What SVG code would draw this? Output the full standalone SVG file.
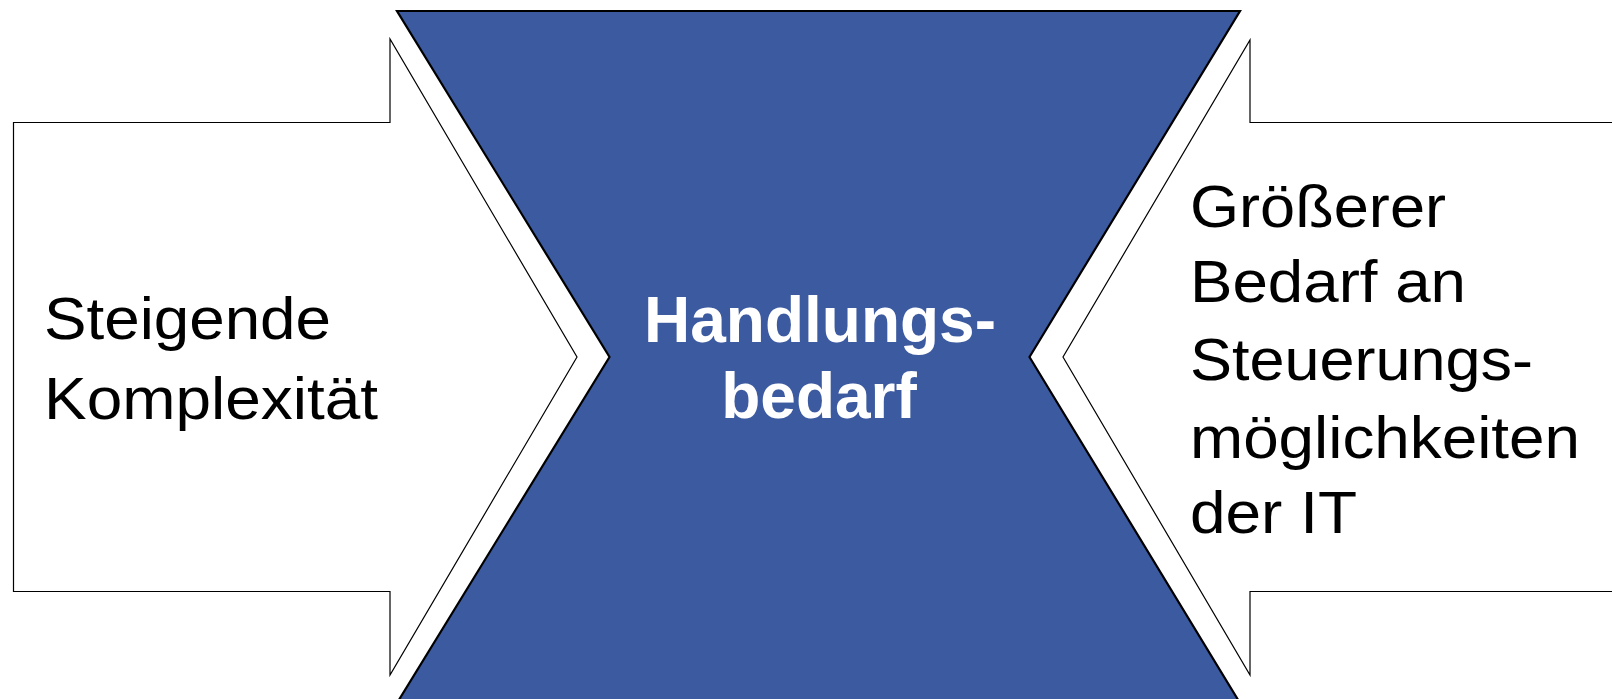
<svg xmlns="http://www.w3.org/2000/svg" width="1612" height="699" viewBox="0 0 1612 699">
<style>
.arrow{fill:#ffffff;stroke:#000000;stroke-width:1.2}
.center{fill:#3C5AA0;stroke:#000000;stroke-width:2.2}
.lbl{font-family:"Liberation Sans",Arial,sans-serif;font-size:60px;fill:#000000}
.clbl{font-family:"Liberation Sans",Arial,sans-serif;font-size:64px;font-weight:bold;fill:#ffffff;text-anchor:middle}
</style>
<rect x="0" y="0" width="1612" height="699" fill="#ffffff"/>
<g id="left-arrow">
<polygon class="arrow" points="13.5,122.5 390,122.5 390,39 577,357 390,675 390,591.5 13.5,591.5"/>
<text class="lbl" x="44" y="338.5" textLength="287" lengthAdjust="spacingAndGlyphs">Steigende</text>
<text class="lbl" x="44" y="418.5" textLength="334" lengthAdjust="spacingAndGlyphs">Komplexität</text>
</g>
<g id="center-node">
<polygon class="center" points="397,11 1240,11 1029.5,357 1240,703 397,703 609.5,357"/>
<text class="clbl" x="820" y="341.5">Handlungs-</text>
<text class="clbl" x="819" y="418">bedarf</text>
</g>
<g id="right-arrow">
<polygon class="arrow" points="1620,122.5 1250,122.5 1250,40 1063,357 1250,675 1250,591.5 1620,591.5"/>
<text class="lbl" x="1190" y="226.5" textLength="256" lengthAdjust="spacingAndGlyphs">Größerer</text>
<text class="lbl" x="1190" y="302" textLength="276" lengthAdjust="spacingAndGlyphs">Bedarf an</text>
<text class="lbl" x="1190" y="380" textLength="343" lengthAdjust="spacingAndGlyphs">Steuerungs-</text>
<text class="lbl" x="1190" y="457.5" textLength="390" lengthAdjust="spacingAndGlyphs">möglichkeiten</text>
<text class="lbl" x="1190" y="533" textLength="167" lengthAdjust="spacingAndGlyphs">der IT</text>
</g>
<g id="connectors"></g>
</svg>
